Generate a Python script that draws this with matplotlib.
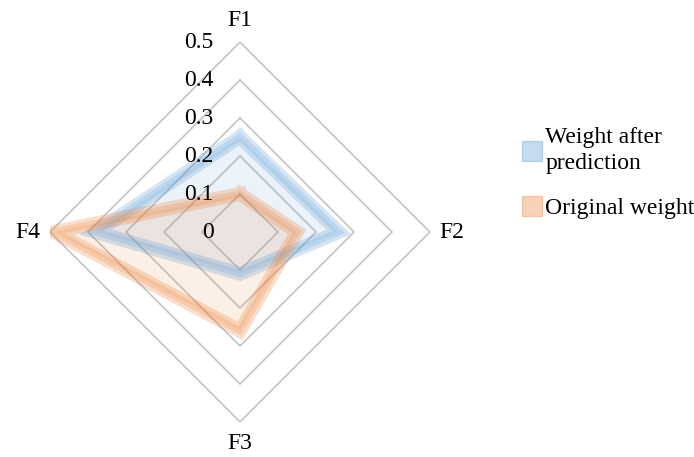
import matplotlib.pyplot as plt
import numpy as np
from matplotlib.lines import Line2D

plt.rcParams['font.family'] = ['Liberation Serif', 'DejaVu Serif']

axes_labels = ['F1', 'F2', 'F3', 'F4']
after_pred = [0.25, 0.26, 0.11, 0.38]
original = [0.10, 0.15, 0.26, 0.49]
ring_vals = [0.1, 0.2, 0.3, 0.4, 0.5]
tick_labels = ['0', '0.1', '0.2', '0.3', '0.4', '0.5']

blue = '#5b9bd5'
orange = '#ed7d31'

# angles clockwise from top
theta = np.arange(len(axes_labels)) * 2 * np.pi / len(axes_labels)


def to_xy(vals):
    r = np.asarray(vals + vals[:1])
    t = np.concatenate([theta, theta[:1]])
    return r * np.sin(t), r * np.cos(t)


fig = plt.figure(figsize=(6.94, 4.57), dpi=100)
ax = fig.add_axes([50 / 694, 35 / 457, 380 / 694, 380 / 457])
ax.set_xlim(-0.5, 0.5)
ax.set_ylim(-0.5, 0.5)
ax.set_aspect('equal')
ax.axis('off')

# diamond grid
for rv in ring_vals:
    x, y = to_xy([rv] * len(axes_labels))
    ax.plot(x, y, color='#c8c8c8', lw=1.3, zorder=1)

# series: light fill + thick soft outline
for vals, col in [(after_pred, blue), (original, orange)]:
    x, y = to_xy(vals)
    ax.fill(x, y, color=col, alpha=0.12, lw=0, zorder=2)
    ax.plot(x, y, color=col, alpha=0.25, lw=10, solid_joinstyle='miter', zorder=3)
    ax.plot(x, y, color=col, alpha=0.2, lw=5, solid_joinstyle='miter', zorder=3)

# radial tick labels on F1 axis
for i, lab in enumerate(tick_labels):
    ax.text(-0.07, i * 0.1, lab, ha='right', va='center', fontsize=17, zorder=4)

# category labels
ax.text(0, 0.53, axes_labels[0], ha='center', va='bottom', fontsize=17)
ax.text(0.525, 0, axes_labels[1], ha='left', va='center', fontsize=17)
ax.text(0, -0.53, axes_labels[2], ha='center', va='top', fontsize=17)
ax.text(-0.525, 0, axes_labels[3], ha='right', va='center', fontsize=17)

handles = [
    Line2D([], [], ls='', marker='s', ms=14, color=blue, alpha=0.35),
    Line2D([], [], ls='', marker='s', ms=14, color=orange, alpha=0.35),
]
leg = fig.legend(handles, ['Weight after\nprediction', 'Original weight'],
                 loc='upper left', bbox_to_anchor=(510 / 694, 1 - 118 / 457),
                 frameon=False, fontsize=17, handletextpad=0.0, handlelength=1.1,
                 labelspacing=1.0, borderaxespad=0)
for t in leg.get_texts():
    t.set_linespacing(1.3)

fig.savefig('out.png', dpi=100)
